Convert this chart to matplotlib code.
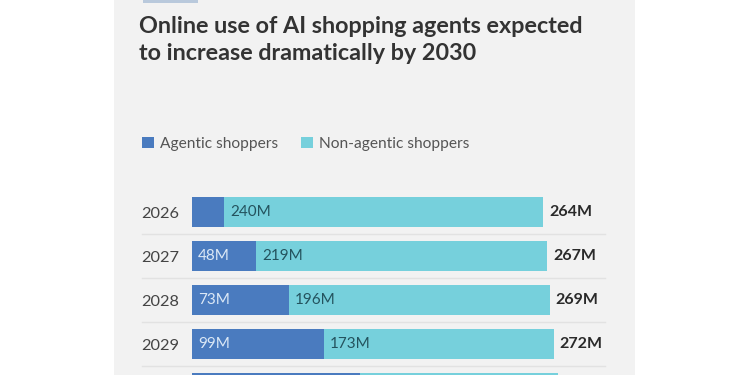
import matplotlib as mpl
import matplotlib.pyplot as plt
from matplotlib.patches import Rectangle
from matplotlib.lines import Line2D
import matplotlib.transforms as mtransforms

mpl.use('Agg')
plt.rcParams['font.family'] = ['Lato', 'DejaVu Sans']

years = ['2026', '2027', '2028', '2029', '2030']
agentic = [24, 48, 73, 99, 126]
non_agentic = [240, 219, 196, 173, 149]
totals = [a + n for a, n in zip(agentic, non_agentic)]

dark_blue = '#4a7bbf'
cyan = '#76d0dc'
W, H = 750, 375

fig = plt.figure(figsize=(7.5, 3.75), dpi=100, facecolor='white')

# grey card behind everything
fig.patches.append(Rectangle((114 / W, 0), (635 - 114) / W, 1, transform=fig.transFigure,
                             facecolor='#f2f2f2', edgecolor='none', zorder=-10))
fig.patches.append(Rectangle((143 / W, 1 - 2.5 / H), 55 / W, 2.5 / H, transform=fig.transFigure,
                             facecolor='#b9c9dc', edgecolor='none', zorder=-9))

fig.text(139 / W, 1 - 40 / H, 'Online use of AI shopping agents expected\nto increase dramatically by 2030',
         fontsize=16.8, fontweight='bold', color='#333333', va='center', ha='left', linespacing=1.38)

# bar axes: 1.33 px per million, rows 44 px apart, last row runs off the bottom
px_per_m = 1.33
ax = fig.add_axes([192 / W, (H - 410) / H, 420 / W, 220 / H])
ax.set_facecolor('none')
ax.set_xlim(0, 420 / px_per_m)
ax.set_ylim(4.5, -0.5)
rows = list(range(len(years)))
shown = rows[:4]  # the 2030 row is cut off by the bottom edge

b1 = ax.barh(rows, agentic, height=0.7, color=dark_blue, label='Agentic shoppers')
b2 = ax.barh(rows, non_agentic, left=agentic, height=0.7, color=cyan, label='Non-agentic shoppers')

off = 6 / px_per_m
for i in shown:
    if agentic[i] >= 30:
        ax.text(off, i, f'{agentic[i]}M', va='center', ha='left', fontsize=11, color='#dbe8f6')
    ax.text(agentic[i] + off, i, f'{non_agentic[i]}M', va='center', ha='left', fontsize=11, color='#24535e')
    ax.text(totals[i] + off, i, f'{totals[i]}M', va='center', ha='left', fontsize=11.5,
            fontweight='bold', color='#2a2a2a')

# separators between rows
trans = mtransforms.blended_transform_factory(fig.transFigure, ax.transData)
for i in rows[:-1]:
    ax.add_line(Line2D([142 / W, 605 / W], [i + 0.5, i + 0.5], transform=trans,
                       color='#e2e2e2', lw=1, clip_on=False))

ax.set_yticks(shown, labels=years[:4])
ax.tick_params(axis='y', length=0, pad=9, labelsize=11.8, labelcolor='#444444')
ax.set_xticks([])
for s in ax.spines.values():
    s.set_visible(False)

fig.legend(handles=[b1, b2], loc='center left', bbox_to_anchor=(128 / W, 1 - 144 / H),
           ncol=2, frameon=False, fontsize=11.2, labelcolor='#555555',
           handlelength=0.75, handleheight=0.75, handletextpad=0.4, columnspacing=1.5)

plt.savefig('out.png', dpi=100)
